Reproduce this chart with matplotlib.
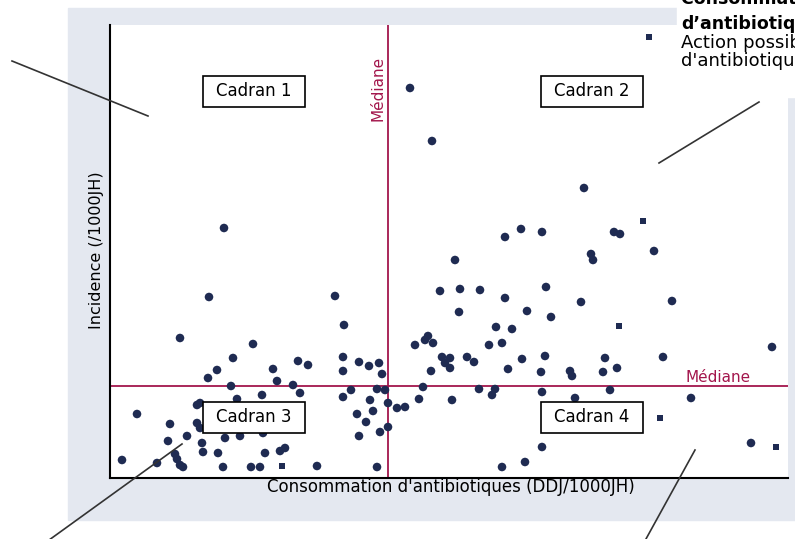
import matplotlib
matplotlib.use("Agg")
import matplotlib.pyplot as plt
from matplotlib.patches import Rectangle
from matplotlib.lines import Line2D

# Consommation (DDJ/1000JH) and incidence (/1000JH) per service
conso = [300, 322, 474, 114, 395, 411, 432, 504, 510, 345, 544, 481, 483,
         99, 225, 330, 350, 370, 436, 395, 471, 562, 70, 234, 349, 417, 441,
         386, 402, 305, 315, 318, 323, 379, 392, 143, 662, 123, 332, 340, 335,
         340, 357, 364, 412, 435, 495, 553, 507, 493, 321, 398, 431, 460, 462,
         188, 198, 233, 233, 163, 107, 249, 259, 269, 272, 98, 167, 121, 183,
         190, 241, 233, 267, 275, 260, 278, 287, 295, 313, 309, 342, 369, 385,
         382, 432, 465, 500, 581, 641, 432, 415, 392, 247, 263, 256, 278, 270,
         249, 152, 127, 87, 90, 27, 60, 87, 90, 77, 115, 130, 153, 58, 92, 93,
         65, 67, 70, 73, 108, 155, 170, 175, 12, 47, 113, 141, 150, 207, 267]
incidence = [390, 337, 290, 250, 241, 249, 246, 246, 244, 218, 227, 224, 218,
             181, 182, 187, 189, 188, 191, 180, 176, 177, 140, 153, 166, 167,
             161, 151, 149, 133, 138, 142, 135, 133, 135, 134, 131, 120, 121,
             120, 115, 110, 121, 116, 119, 122, 120, 121, 110, 106, 107, 109,
             106, 107, 102, 117, 113, 121, 107, 109, 108, 116, 112, 115, 104,
             100, 97, 92, 93, 85, 88, 81, 89, 88, 78, 75, 70, 71, 91, 79, 78,
             89, 89, 83, 86, 80, 88, 80, 35, 31, 16, 11, 64, 67, 56, 51, 46,
             42, 83, 79, 73, 75, 64, 54, 55, 50, 42, 40, 42, 45, 37, 35, 26,
             24, 19, 13, 11, 25, 25, 27, 30, 18, 15, 11, 11, 11, 12, 11]

# services drawn with a square marker
conso_sq = [539, 533, 509, 550, 666, 172]
incidence_sq = [441, 257, 152, 60, 31, 12]

MEDIANE_CONSO = 278
MEDIANE_INCIDENCE = 92

cadrans = ["Cadran 1", "Cadran 2", "Cadran 3", "Cadran 4"]

NAVY = "#1f2b52"
CRIMSON = "#a3164c"
PANEL = "#e4e8f0"

W, H = 795, 539


def fx(px):
    return px / W


def fy(py):
    return 1 - py / H


fig = plt.figure(figsize=(W / 100, H / 100), dpi=100)
fig.patch.set_facecolor("white")

# grey frame behind the plot
fig.patches.append(Rectangle((fx(68), fy(520)), 1.0, (520 - 8) / H,
                             transform=fig.transFigure, color=PANEL, zorder=-2))
# white block under the note in the upper right corner
fig.patches.append(Rectangle((fx(677), fy(97)), 1.0, 0.5,
                             transform=fig.transFigure, color="white", zorder=-1))

ax = fig.add_axes([fx(110), fy(478), (788 - 110) / W, (478 - 25) / H])
ax.set_facecolor("white")
ax.set_xlim(0, 678)
ax.set_ylim(0, 453)
ax.set_xticks([])
ax.set_yticks([])
for side in ("top", "right"):
    ax.spines[side].set_visible(False)
for side in ("left", "bottom"):
    ax.spines[side].set_color("black")
    ax.spines[side].set_linewidth(1.5)

ax.scatter(conso, incidence, s=38, marker="o", color=NAVY,
           edgecolors="none", zorder=3, clip_on=False)
ax.scatter(conso_sq, incidence_sq, s=22, marker="s", color=NAVY,
           edgecolors="none", zorder=3, clip_on=False)

ax.axvline(MEDIANE_CONSO, color=CRIMSON, lw=1.3, zorder=2)
ax.axhline(MEDIANE_INCIDENCE, color=CRIMSON, lw=1.3, zorder=2)
ax.text(MEDIANE_CONSO - 10, 390, "Médiane", rotation=90, color=CRIMSON,
        fontsize=11, ha="center", va="center")
ax.text(608, MEDIANE_INCIDENCE + 9, "Médiane", color=CRIMSON,
        fontsize=11, ha="center", va="center")

# quadrant labels
boxes = [(93, 371), (431, 371), (93, 45), (431, 45)]
for label, (bx, by) in zip(cadrans, boxes):
    ax.add_patch(Rectangle((bx, by), 102, 31, facecolor="white",
                           edgecolor="black", lw=1.2, zorder=5))
    ax.text(bx + 51, by + 15.5, label, fontsize=12, ha="center",
            va="center", zorder=6)

fig.text(fx(451), fy(487), "Consommation d'antibiotiques (DDJ/1000JH)",
         fontsize=12, ha="center", va="center")
fig.text(fx(97), fy(250), "Incidence (/1000JH)", fontsize=11.5,
         rotation=90, ha="center", va="center")

# callout lines
callouts = [((12, 61), (148, 116)), ((659, 163), (759, 102)),
            ((38, 548), (182, 444)), ((695, 450), (641, 548))]
for (x0, y0), (x1, y1) in callouts:
    fig.add_artist(Line2D([fx(x0), fx(x1)], [fy(y0), fy(y1)],
                          color="#333333", lw=1.2, zorder=8))

# note in the upper right corner
fig.text(fx(681), fy(4), "Consommation élevée", fontsize=12.5,
         fontweight="bold", va="baseline", zorder=9)
fig.text(fx(681), fy(29), "d’antibiotiques", fontsize=12.5,
         fontweight="bold", va="baseline", zorder=9)
fig.text(fx(681), fy(48), "Action possible sur la consommation", fontsize=13,
         va="baseline", zorder=9)
fig.text(fx(681), fy(66), "d'antibiotiques", fontsize=13,
         va="baseline", zorder=9)

fig.savefig("out.png", dpi=100)
